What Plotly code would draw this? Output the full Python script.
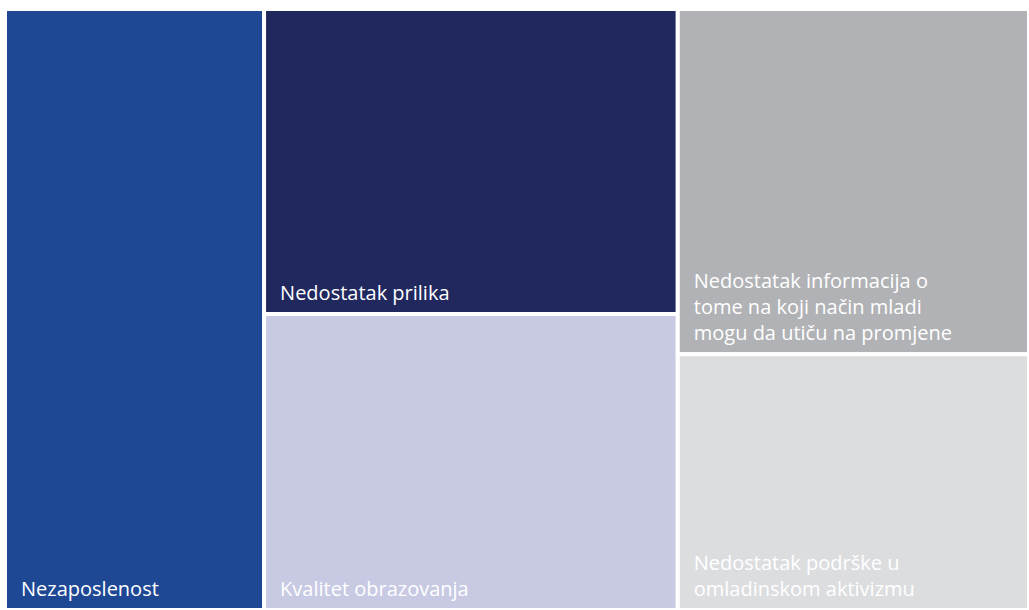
import plotly.graph_objects as go

# Data
categories = [
    "Nezaposlenost",
    "Nedostatak prilika",
    "Kvalitet obrazovanja",
    "Nedostatak informacija o tome na koji način mladi mogu da utiču na promjene",
    "Nedostatak podrške u omladinskom aktivizmu",
]
label_lines = [
    ["Nezaposlenost"],
    ["Nedostatak prilika"],
    ["Kvalitet obrazovanja"],
    ["Nedostatak informacija o", "tome na koji način mladi", "mogu da utiču na promjene"],
    ["Nedostatak podrške u", "omladinskom aktivizmu"],
]
values = [25.3, 20.5, 19.9, 19.7, 14.6]
colors = ["#1e4894", "#20285e", "#c8c9e3", "#b1b2b5", "#dcdddf"]
column_of = [0, 1, 1, 2, 2]  # which column group each category sits in

LEAD = "<span style='font-size:25px'>\u00a0\u00a0</span>"   # left text inset
STRUT = "<span style='font-size:38px'>\u00a0</span>"        # bottom text inset


def fmt(lines):
    out = [LEAD + ln for ln in lines]
    out[-1] = out[-1] + STRUT
    return "<br>".join(out)


ids, parents, vals, cols, texts, lbls = [], [], [], [], [], []
ids.append("root"); parents.append(""); lbls.append("")
vals.append(sum(values)); cols.append("#ffffff"); texts.append("")
for g in range(3):
    ids.append(f"col{g}"); parents.append("root"); lbls.append("")
    vals.append(sum(v for v, c in zip(values, column_of) if c == g))
    cols.append("#ffffff"); texts.append("")
for i, cat in enumerate(categories):
    ids.append(cat); parents.append(f"col{column_of[i]}"); lbls.append(cat)
    vals.append(values[i]); cols.append(colors[i])
    texts.append(fmt(label_lines[i]))

fig = go.Figure(go.Treemap(
    ids=ids, labels=lbls, parents=parents, values=vals,
    branchvalues="total", sort=False,
    text=texts, texttemplate="%{text}",
    textposition="bottom left",
    textfont=dict(family="Open Sans", size=20, color="#ffffff"),
    marker=dict(colors=cols, line=dict(color="#ffffff", width=4),
                pad=dict(t=0, l=0, r=0, b=0)),
    tiling=dict(packing="slice-dice", pad=0),
    pathbar=dict(visible=False),
    hoverinfo="label+value",
))
fig.update_layout(
    width=1029, height=610,
    margin=dict(l=5, r=0, t=9, b=0),
    paper_bgcolor="#ffffff",
)
fig.write_html(
    "out.html",
    config={"displayModeBar": False},
    post_script="document.body.style.margin='0';",
)
